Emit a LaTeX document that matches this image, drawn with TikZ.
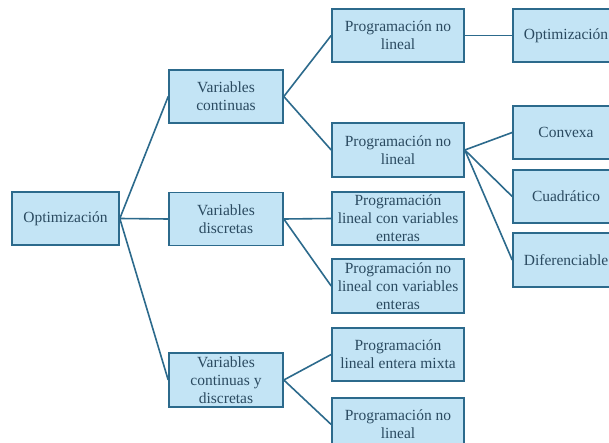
\documentclass[tikz,border=0pt]{standalone}
\usepackage{fontspec}
\setmainfont{Liberation Serif}
\definecolor{boxfill}{HTML}{C3E4F5}
\definecolor{boxline}{HTML}{2C6A8C}
\definecolor{txt}{HTML}{2A4A60}
\begin{document}
\begin{tikzpicture}[x=1pt,y=-1pt,
  box/.style={draw=boxline, fill=boxfill, line width=1.6pt, text=txt,
    font=\rmfamily\fontsize{15.5}{18}\selectfont, align=center, inner sep=0pt, minimum height=53pt},
  c1/.style={box, minimum width=107pt},
  c2/.style={box, minimum width=114pt},
  c3/.style={box, minimum width=132pt},
  c4/.style={box, minimum width=106pt},
  link/.style={draw=boxline, line width=1.6pt}]
\useasboundingbox (0,0) rectangle (609,443);
\clip (0,0) rectangle (609,443);
\fill[white] (0,0) rectangle (609,443);
\node[c1] (root) at (65.5,218.5) {Optimización};
\node[c2] (vc) at (226,96.5) {Variables\\continuas};
\node[c2] (vd) at (226,219) {Variables\\discretas};
\node[c2, minimum height=54pt] (vcd) at (226,380) {Variables\\continuas y\\discretas};
\node[c3] (pnla) at (398,35.5) {Programación no\\lineal};
\node[c3, minimum height=54pt] (pnlb) at (398,150) {Programación no\\lineal};
\node[c3] (plve) at (398,218.5) {Programación\\lineal con variables\\enteras};
\node[c3, minimum height=54pt] (pnlve) at (398,286) {Programación no\\lineal con variables\\enteras};
\node[c3] (plem) at (398,354.5) {Programación\\lineal entera mixta};
\node[c3] (pnlc) at (398,424.5) {Programación no\\lineal};
\node[c4] (opt) at (566,35.5) {Optimización};
\node[c4] (conv) at (566,132.5) {Convexa};
\node[c4] (cuad) at (566,196.5) {Cuadrático};
\node[c4, minimum height=54pt] (dif) at (566,260) {Diferenciable};
\draw[link] (root.east) -- (vc.west);
\draw[link] (root.east) -- (vd.west);
\draw[link] (root.east) -- (vcd.west);
\draw[link] (vc.east) -- (pnla.west);
\draw[link] (vc.east) -- (pnlb.west);
\draw[link] (vd.east) -- (plve.west);
\draw[link] (vd.east) -- (pnlve.west);
\draw[link] (vcd.east) -- (plem.west);
\draw[link] (vcd.east) -- (pnlc.west);
\draw[link] (pnla.east) -- (opt.west);
\draw[link] (pnlb.east) -- (conv.west);
\draw[link] (pnlb.east) -- (cuad.west);
\draw[link] (pnlb.east) -- (dif.west);
\end{tikzpicture}
\end{document}
